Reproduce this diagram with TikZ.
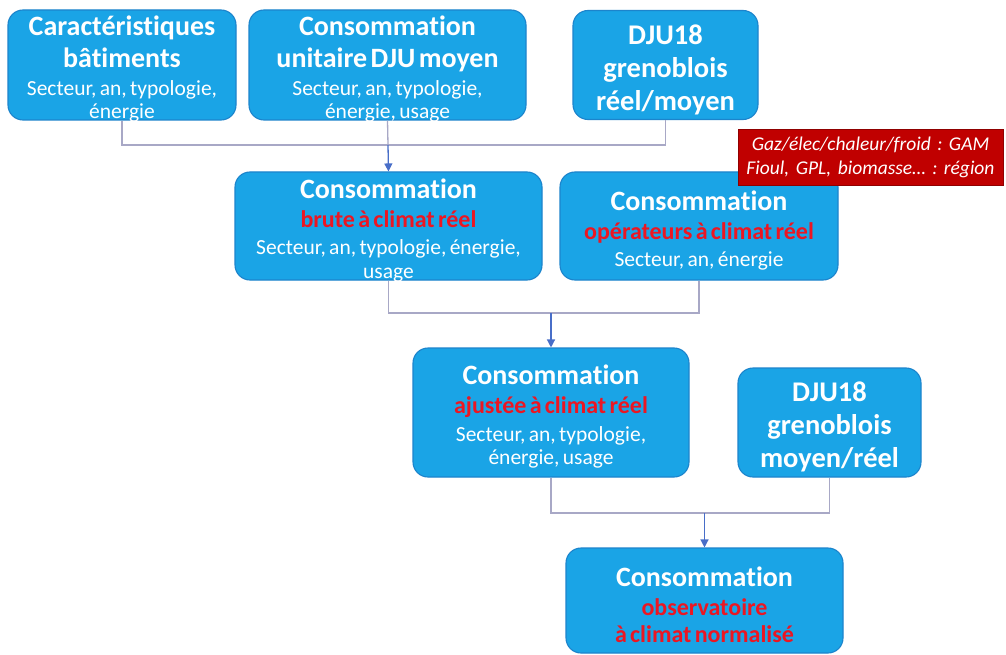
\documentclass[tikz,border=0pt]{standalone}
\usepackage{fontspec}
\setmainfont{Carlito}[Ligatures=NoCommon]
\usetikzlibrary{arrows.meta}
\frenchspacing

\definecolor{boxblue}{RGB}{26,164,230}
\definecolor{boxedge}{RGB}{28,132,204}
\definecolor{hotred}{RGB}{236,22,34}
\definecolor{linkgray}{RGB}{168,168,198}
\definecolor{linkblue}{RGB}{72,110,200}
\definecolor{notered}{RGB}{192,0,0}

% text groups inside the boxes
\newcommand\boxtitle[1]{{\fontsize{28}{32}\selectfont\bfseries #1\par}}
\newcommand\djutitle[1]{{\fontsize{28.5}{33}\selectfont\bfseries #1\par}}
\newcommand\boxhot[1]{\vspace{2pt}{\fontsize{24}{27}\selectfont\bfseries\color{hotred}#1\par}}
\newcommand\boxsub[1]{\vspace{4pt}{\fontsize{21.5}{23.5}\selectfont #1\par}}

\tikzset{
  stepbox/.style={rounded corners=15pt, fill=boxblue, draw=boxedge, line width=1.1pt,
    text=white, align=center, inner sep=0pt,
    execute at end node={\vspace{-9pt}}},
  notebox/.style={fill=notered, draw=notered!75!black, line width=0.8pt, text=white,
    align=center, inner sep=0pt, font=\fontsize{19.5}{24}\selectfont\itshape},
  link/.style={draw=linkgray, line width=1.3pt},
  flow/.style={draw=linkblue, line width=1.3pt, -{Triangle[width=8pt,length=8pt]}},
}

\begin{document}
\begin{tikzpicture}[x=1pt,y=-1pt]
\useasboundingbox[fill=white] (0,0) rectangle (1006,655);

% first row: inputs
\node[stepbox, text width=228pt, minimum height=110pt] (b1) at (122,65)
  {\boxtitle{Caractéristiques\\bâtiments}\boxsub{Secteur, an, typologie,\\énergie}};
\node[stepbox, text width=277pt, minimum height=110pt] (b2) at (387.5,65)
  {\boxtitle{Consommation\\unitaire DJU moyen}\boxsub{Secteur, an, typologie,\\énergie, usage}};
\node[stepbox, text width=185pt, minimum height=109pt] (b3) at (665.5,65)
  {\djutitle{DJU18\\grenoblois\\réel/moyen}};

% second row
\node[stepbox, text width=307pt, minimum height=108pt] (b4) at (388.5,226)
  {\boxtitle{Consommation}\boxhot{brute à climat réel}\boxsub{Secteur, an, typologie, énergie,\\usage}};
\node[stepbox, text width=278pt, minimum height=108pt] (b5) at (699,226)
  {\boxtitle{Consommation}\boxhot{opérateurs à climat réel}\boxsub{Secteur, an, énergie}};

% third row
\node[stepbox, text width=276pt, minimum height=129pt] (b6) at (551,412.5)
  {\boxtitle{Consommation}\boxhot{ajustée à climat réel}\boxsub{Secteur, an, typologie,\\énergie, usage}};
\node[stepbox, text width=183pt, minimum height=109pt] (b7) at (829.5,422.5)
  {\djutitle{DJU18\\grenoblois\\moyen/réel}};

% result
\node[stepbox, text width=277pt, minimum height=105pt] (b8) at (704.5,600.5)
  {\boxtitle{Consommation}\boxhot{observatoire\\à climat normalisé}};

% junction points of the connectors
\coordinate (j1) at (388,145);
\coordinate (j2) at (551,313);
\coordinate (j3) at (704.5,513);

\draw[link] (b1.south) |- (j1) -| (b3.south);
\draw[link] (b2.south) -- (j1);
\draw[flow] (j1) -- (b4.north);

\draw[link] (b4.south) |- (j2) -| (b5.south);
\draw[flow] (j2) -- (b6.north);

\draw[link] (b6.south) |- (j3) -| (b7.south);
\draw[flow] (j3) -- (b8.north);

% source note
\node[notebox, text width=265pt, minimum height=56pt] (note) at (870.5,157)
  {Gaz/élec/chaleur/froid : GAM\\Fioul, GPL, biomasse… : région};
\end{tikzpicture}
\end{document}
